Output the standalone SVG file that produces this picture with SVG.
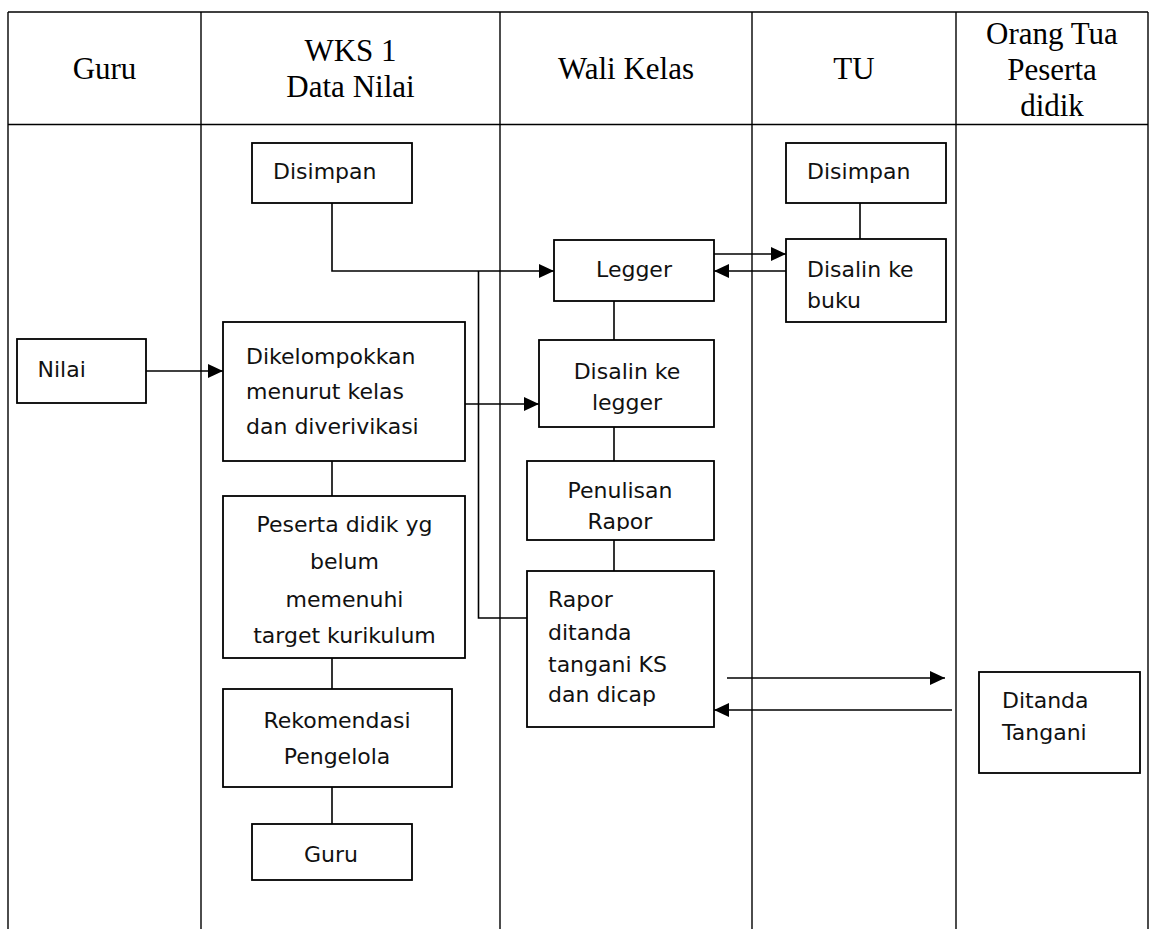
<svg xmlns="http://www.w3.org/2000/svg" width="1151" height="929" viewBox="0 0 1151 929">
<style>
.grid{stroke:#000;stroke-width:1.4;fill:none}
.box{fill:#fff;stroke:#000;stroke-width:1.8}
.ln{stroke:#000;stroke-width:1.6;fill:none}
.hd{font-family:"Liberation Serif","Times New Roman",serif;font-size:31px;fill:#000;text-anchor:middle}
.tx{font-family:"DejaVu Sans",Verdana,sans-serif;font-size:22px;fill:#111}
.c{text-anchor:middle}
</style>
<defs>
<marker id="ah" markerUnits="userSpaceOnUse" markerWidth="16" markerHeight="14" refX="15" refY="7" orient="auto">
<path d="M0,0 L15,7 L0,14 z" fill="#000"/>
</marker>
<clipPath id="clipPen"><rect x="527" y="461" width="187" height="70"/></clipPath>
<clipPath id="clipPes"><rect x="223" y="496" width="242" height="151"/></clipPath>
</defs>
<rect width="1151" height="929" fill="#fff"/>
<g id="table">
<line class="grid" x1="8" y1="12" x2="1148" y2="12"/>
<line class="grid" x1="8" y1="124.5" x2="1148" y2="124.5"/>
<line class="grid" x1="8" y1="12" x2="8" y2="929"/>
<line class="grid" x1="201" y1="12" x2="201" y2="929"/>
<line class="grid" x1="500" y1="12" x2="500" y2="929"/>
<line class="grid" x1="752" y1="12" x2="752" y2="929"/>
<line class="grid" x1="956" y1="12" x2="956" y2="929"/>
<line class="grid" x1="1148" y1="12" x2="1148" y2="929"/>
<text class="hd" x="104.5" y="79">Guru</text>
<text class="hd" x="350.5" y="61">WKS 1</text>
<text class="hd" x="350.5" y="97">Data Nilai</text>
<text class="hd" x="626" y="79">Wali Kelas</text>
<text class="hd" x="854" y="79">TU</text>
<text class="hd" x="1052" y="44">Orang Tua</text>
<text class="hd" x="1052" y="80">Peserta</text>
<text class="hd" x="1052" y="116">didik</text>
</g>
<g id="connectors">
<polyline class="ln" points="332,203 332,271 554,271" marker-end="url(#ah)"/>
<polyline class="ln" points="478.5,271 478.5,618 527,618"/>
<line class="ln" x1="146" y1="371" x2="223" y2="371" marker-end="url(#ah)"/>
<line class="ln" x1="465" y1="404" x2="539" y2="404" marker-end="url(#ah)"/>
<line class="ln" x1="332" y1="461" x2="332" y2="496"/>
<line class="ln" x1="332" y1="658" x2="332" y2="689"/>
<line class="ln" x1="332" y1="787" x2="332" y2="824"/>
<line class="ln" x1="614" y1="301" x2="614" y2="340"/>
<line class="ln" x1="614" y1="427" x2="614" y2="461"/>
<line class="ln" x1="614" y1="540" x2="614" y2="571"/>
<line class="ln" x1="860" y1="203" x2="860" y2="239"/>
<line class="ln" x1="714" y1="254" x2="786" y2="254" marker-end="url(#ah)"/>
<line class="ln" x1="786" y1="271" x2="714" y2="271" marker-end="url(#ah)"/>
<line class="ln" x1="727" y1="678" x2="945" y2="678" marker-end="url(#ah)"/>
<line class="ln" x1="952" y1="710" x2="714" y2="710" marker-end="url(#ah)"/>
</g>
<g id="nilai">
<rect class="box" x="17" y="339" width="129" height="64"/>
<text class="tx" x="37.5" y="377">Nilai</text>
</g>
<g id="disimpan-wks">
<rect class="box" x="252" y="143" width="160" height="60"/>
<text class="tx" x="273" y="179">Disimpan</text>
</g>
<g id="dikelompokkan">
<rect class="box" x="223" y="322" width="242" height="139"/>
<text class="tx" x="246" y="364">Dikelompokkan</text>
<text class="tx" x="246" y="399">menurut kelas</text>
<text class="tx" x="246" y="434">dan diverivikasi</text>
</g>
<g id="peserta">
<rect class="box" x="223" y="496" width="242" height="162"/>
<g clip-path="url(#clipPes)">
<text class="tx c" x="344.5" y="532">Peserta didik yg</text>
<text class="tx c" x="344.5" y="569">belum</text>
<text class="tx c" x="344.5" y="607">memenuhi</text>
<text class="tx c" x="344.5" y="643">target kurikulum</text>
</g>
</g>
<g id="rekomendasi">
<rect class="box" x="223" y="689" width="229" height="98"/>
<text class="tx c" x="337" y="728">Rekomendasi</text>
<text class="tx c" x="337" y="764">Pengelola</text>
</g>
<g id="guru-box">
<rect class="box" x="252" y="824" width="160" height="56"/>
<text class="tx c" x="331" y="862">Guru</text>
</g>
<g id="legger">
<rect class="box" x="554" y="240" width="160" height="61"/>
<text class="tx c" x="634" y="277">Legger</text>
</g>
<g id="disalin-legger">
<rect class="box" x="539" y="340" width="175" height="87"/>
<text class="tx c" x="627" y="379">Disalin ke</text>
<text class="tx c" x="627" y="410">legger</text>
</g>
<g id="penulisan">
<rect class="box" x="527" y="461" width="187" height="79"/>
<g clip-path="url(#clipPen)">
<text class="tx c" x="620" y="498">Penulisan</text>
<text class="tx c" x="620" y="529">Rapor</text>
</g>
</g>
<g id="rapor">
<rect class="box" x="527" y="571" width="187" height="156"/>
<text class="tx" x="548" y="607">Rapor</text>
<text class="tx" x="548" y="640">ditanda</text>
<text class="tx" x="548" y="672">tangani KS</text>
<text class="tx" x="548" y="702">dan dicap</text>
</g>
<g id="disimpan-tu">
<rect class="box" x="786" y="143" width="160" height="60"/>
<text class="tx" x="807" y="179">Disimpan</text>
</g>
<g id="disalin-buku">
<rect class="box" x="786" y="239" width="160" height="83"/>
<text class="tx" x="807" y="277">Disalin ke</text>
<text class="tx" x="807" y="308">buku</text>
</g>
<g id="ditanda">
<rect class="box" x="979" y="672" width="161" height="101"/>
<text class="tx" x="1002" y="708">Ditanda</text>
<text class="tx" x="1002" y="740">Tangani</text>
</g>
</svg>
